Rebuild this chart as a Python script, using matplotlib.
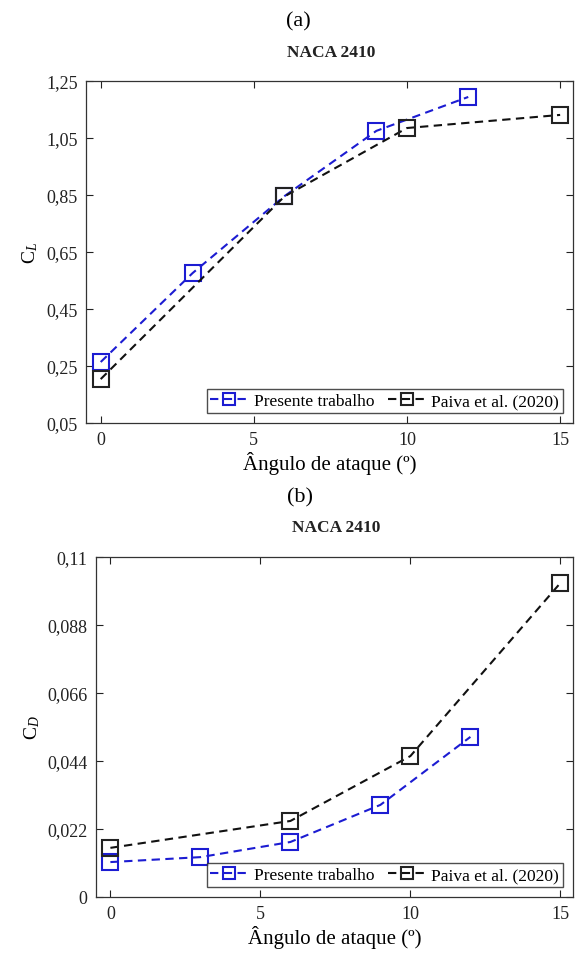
import matplotlib
matplotlib.use('agg')
import matplotlib.pyplot as plt
from matplotlib.ticker import FixedLocator, FixedFormatter

plt.rcParams['font.family'] = ['Liberation Serif', 'DejaVu Serif']
plt.rcParams['mathtext.fontset'] = 'custom'
plt.rcParams['mathtext.rm'] = 'Liberation Serif'
plt.rcParams['mathtext.it'] = 'Liberation Serif:italic'

# data
alpha_pres = [0, 3, 6, 9, 12]
alpha_paiva = [0, 6, 10, 15]
cl_pres = [0.264, 0.576, 0.846, 1.075, 1.194]
cl_paiva = [0.204, 0.845, 1.085, 1.131]
cd_pres = [0.0113, 0.0129, 0.0178, 0.0298, 0.0518]
cd_paiva = [0.0159, 0.0246, 0.0456, 0.1016]

x_ticks = [0, 5, 10, 15]
cl_ticks = [0.05, 0.25, 0.45, 0.65, 0.85, 1.05, 1.25]
cl_labels = ['0,05', '0,25', '0,45', '0,65', '0,85', '1,05', '1,25']
cd_ticks = [0, 0.022, 0.044, 0.066, 0.088, 0.11]
cd_labels = ['0', '0,022', '0,044', '0,066', '0,088', '0,11']

blue = '#1c1cd2'
black = '#111111'

fig = plt.figure(figsize=(5.75, 9.54), dpi=100)
W, H = 575.0, 954.0


def make_axes(l, r, t, b):
    return fig.add_axes([l / W, 1 - b / H, (r - l) / W, (b - t) / H])


def style(ax, yticks, ylabels, ylim, ylab):
    ax.set_xlim(-0.48, 15.42)
    ax.set_ylim(*ylim)
    ax.xaxis.set_major_locator(FixedLocator(x_ticks))
    ax.yaxis.set_major_locator(FixedLocator(yticks))
    ax.yaxis.set_major_formatter(FixedFormatter(ylabels))
    ax.tick_params(direction='in', top=True, right=True, length=5, width=0.8,
                   labelsize=13, colors='#222222', pad=6)
    for s in ax.spines.values():
        s.set_color('#333333')
        s.set_linewidth(0.9)
    ax.set_xlabel('Ângulo de ataque (º)', fontsize=15, labelpad=2)
    ax.set_ylabel(ylab, fontsize=14, labelpad=4)


def draw(ax, yp, yq):
    ax.plot(alpha_pres, yp, ls='--', dashes=(4, 2.6), color=blue, lw=1.5,
            marker='s', ms=11, mfc='none', mec=blue, mew=1.5,
            label='Presente trabalho')
    ax.plot(alpha_paiva, yq, ls='--', dashes=(4, 2.6), color=black, lw=1.5,
            marker='s', ms=11, mfc='none', mec='#222222', mew=1.5,
            label='Paiva et al. (2020)')
    leg = ax.legend(loc='lower right', ncol=2, fontsize=12.5, frameon=True,
                    fancybox=False, edgecolor='#222222', borderpad=0.2,
                    handlelength=2.2, handletextpad=0.3, columnspacing=0.8,
                    markerscale=0.75, borderaxespad=0.6)
    leg.get_frame().set_linewidth(1.0)


# (a) lift
ax1 = make_axes(86, 573, 82, 424)
draw(ax1, cl_pres, cl_paiva)
style(ax1, cl_ticks, cl_labels, (0.05, 1.25), r'C$_{L}$')
fig.text(298 / W, 1 - 22 / H, '(a)', ha='center', va='center', fontsize=16)
fig.text(331 / W, 1 - 53 / H, 'NACA 2410', ha='center', va='center',
         fontsize=12.5, fontweight='bold', color='#222222')

# (b) drag
ax2 = make_axes(96, 573, 558, 898)
draw(ax2, cd_pres, cd_paiva)
style(ax2, cd_ticks, cd_labels, (0, 0.11), r'C$_{D}$')
fig.text(300 / W, 1 - 498 / H, '(b)', ha='center', va='center', fontsize=16)
fig.text(336 / W, 1 - 528 / H, 'NACA 2410', ha='center', va='center',
         fontsize=12.5, fontweight='bold', color='#222222')

plt.savefig('out.png', dpi=100)
